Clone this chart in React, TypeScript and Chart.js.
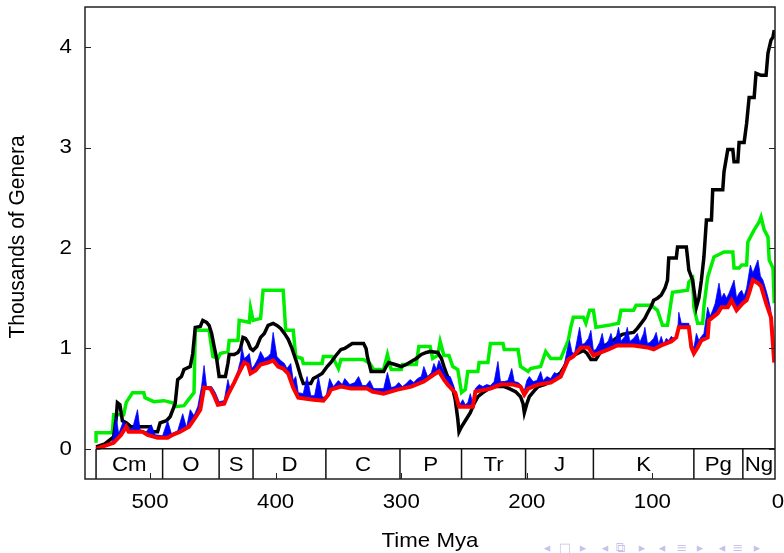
import React, { useEffect, useRef } from 'react';
import { Chart, registerables } from 'chart.js';
Chart.register(...registerables);

// ---- data (Mya, thousands of genera) ----
const blackSeries: [number, number][] = [
  [543,0.02],[536,0.05],[529,0.12],[527,0.3],[526,0.46],[524,0.44],[522,0.28],[519,0.26],[515,0.22],[500,0.22],[499,0.17],[494,0.17],[492,0.26],[487,0.28],[484,0.32],[480,0.45],[478,0.69],[475,0.72],[473,0.79],[468,0.82],[466,0.95],[464,1.21],[460,1.22],[458,1.28],[455,1.26],[453,1.23],[451,1.15],[449,1.02],[447,0.9],[445,0.72],[440,0.72],[438,0.85],[437,0.94],[433,0.94],[430,0.96],[428,1.0],[426,1.11],[424,1.1],[422,1.06],[420,1.0],[418,0.98],[415,1.02],[412,1.11],[409,1.15],[406,1.23],[402,1.25],[399,1.23],[396,1.2],[393,1.15],[390,1.09],[387,1.0],[383,0.85],[380,0.72],[378,0.65],[372,0.65],[370,0.7],[367,0.72],[363,0.75],[359,0.82],[356,0.86],[352,0.93],[348,0.99],[345,1.0],[339,1.05],[330,1.05],[328,1.0],[327,0.92],[324,0.77],[314,0.77],[312,0.82],[310,0.86],[305,0.84],[300,0.82],[296,0.84],[292,0.87],[288,0.9],[284,0.94],[280,0.96],[277,0.97],[271,0.96],[268,0.9],[266,0.82],[264,0.75],[262,0.69],[259,0.6],[257,0.49],[255,0.3],[254,0.17],[252,0.22],[250,0.26],[248,0.3],[245,0.36],[242,0.45],[239,0.52],[236,0.55],[234,0.57],[230,0.6],[226,0.62],[218,0.62],[214,0.6],[209,0.57],[205,0.52],[203,0.45],[202,0.36],[200,0.45],[198,0.52],[194,0.58],[191,0.62],[186,0.64],[181,0.67],[177,0.72],[173,0.76],[170,0.82],[167,0.9],[163,0.93],[158,0.96],[155,0.98],[152,0.95],[149,0.89],[145,0.89],[142,0.95],[139,1.02],[135,1.05],[131,1.08],[128,1.11],[124,1.14],[120,1.15],[115,1.16],[112,1.2],[109,1.25],[106,1.3],[104,1.35],[101,1.42],[99,1.48],[96,1.5],[93,1.53],[90,1.6],[88,1.68],[87,1.9],[81,1.9],[80,2.01],[73,2.01],[72,1.9],[71,1.78],[68,1.68],[66,1.5],[65,1.41],[63,1.5],[61,1.68],[59,1.91],[57,2.28],[53,2.28],[52,2.58],[44,2.58],[43,2.76],[40,2.98],[36,2.98],[35,2.86],[32,2.86],[31,3.05],[27,3.05],[25,3.24],[23,3.5],[19,3.5],[17.5,3.74],[13.5,3.72],[9.5,3.72],[8,3.94],[5.6,4.07],[4,4.1],[3,4.17]
];

const greenSeries: [number, number][] = [
  [543,0.06],[543,0.16],[530,0.16],[529,0.34],[521,0.34],[519,0.46],[514,0.56],[505,0.56],[504,0.51],[497,0.47],[489,0.48],[482,0.46],[480,0.42],[473,0.43],[470,0.48],[465,0.56],[464,1.18],[453,1.18],[450,0.92],[446,0.9],[444,0.95],[438,0.97],[437,1.08],[430,1.08],[429,1.28],[421,1.26],[420,1.4],[418,1.28],[412,1.3],[410,1.58],[394,1.58],[392,1.18],[386,1.18],[384,0.92],[379,0.9],[378,0.85],[363,0.85],[362,0.92],[355,0.92],[352,0.85],[350,0.8],[348,0.89],[330,0.89],[325,0.85],[322,0.79],[314,0.79],[311,0.94],[308,0.79],[300,0.79],[299,0.84],[288,0.84],[286,1.02],[277,1.02],[275,0.9],[271,0.93],[269,1.07],[266,0.93],[262,0.93],[259,0.82],[255,0.79],[252,0.56],[249,0.59],[247,0.77],[239,0.77],[238,0.86],[231,0.86],[229,1.05],[219,1.05],[218,0.99],[207,0.99],[205,0.82],[199,0.77],[197,0.8],[189,0.82],[185,0.97],[181,0.9],[173,0.9],[170,0.99],[167,1.08],[165,1.21],[163,1.31],[155,1.31],[153,1.25],[150,1.38],[147,1.38],[145,1.21],[135,1.23],[127,1.25],[125,1.38],[115,1.38],[113,1.43],[101,1.43],[96,1.38],[92,1.23],[88,1.23],[84,1.56],[72,1.58],[71,1.66],[68,1.7],[67,1.41],[64,1.25],[60,1.25],[59,1.42],[56,1.71],[51,1.91],[43,1.96],[36,1.96],[35,1.8],[31,1.8],[29,1.83],[25,1.83],[24,2.06],[19,2.18],[15,2.26],[13.5,2.31],[11,2.18],[8,2.11],[7,1.88],[4,1.8],[3,1.45]
];

const redSeries: [number, number][] = [
  [543,0.0],[529,0.06],[523,0.14],[519,0.22],[517,0.17],[510,0.17],[506,0.17],[502,0.14],[494,0.11],[486,0.11],[482,0.14],[476,0.17],[469,0.22],[464,0.31],[460,0.39],[457,0.61],[452,0.6],[449,0.53],[446,0.44],[441,0.45],[438,0.54],[433,0.66],[430,0.74],[425,0.86],[422,0.84],[420,0.75],[416,0.78],[412,0.84],[406,0.86],[402,0.88],[398,0.82],[394,0.8],[390,0.75],[386,0.61],[382,0.51],[370,0.49],[362,0.48],[358,0.54],[356,0.59],[348,0.62],[340,0.6],[327,0.6],[323,0.57],[314,0.55],[303,0.59],[292,0.62],[282,0.67],[274,0.74],[270,0.77],[266,0.69],[263,0.64],[257,0.56],[254,0.42],[243,0.42],[241,0.57],[229,0.6],[221,0.64],[211,0.64],[205,0.62],[202,0.54],[199,0.6],[191,0.64],[181,0.66],[173,0.72],[167,0.89],[163,0.92],[157,1.01],[151,1.01],[147,0.93],[143,0.95],[135,0.99],[128,1.03],[115,1.03],[104,1.01],[99,0.99],[93,1.03],[85,1.07],[81,1.11],[79,1.21],[71,1.21],[69,1.01],[67,0.95],[64,1.01],[61,1.08],[56,1.11],[55,1.28],[48,1.35],[45,1.41],[40,1.41],[37,1.48],[33,1.38],[28,1.45],[25,1.48],[23,1.55],[20,1.68],[16,1.65],[13.5,1.62],[9.5,1.45],[5.6,1.31],[3,0.86]
];

const blueSeries: [number, number][] = [
  [543,0.0],[535,0.05],[530,0.07],[527,0.32],[525,0.15],[521,0.28],[519,0.22],[514,0.2],[510,0.39],[508,0.19],[503,0.17],[499,0.24],[496,0.14],[490,0.13],[486,0.28],[483,0.15],[478,0.18],[474,0.35],[471,0.21],[468,0.39],[465,0.33],[462,0.42],[459,0.62],[457,0.83],[455,0.62],[451,0.62],[448,0.56],[445,0.47],[441,0.48],[438,0.69],[436,0.58],[433,0.68],[430,0.78],[428,0.88],[427,1.02],[425,0.9],[423,0.92],[421,0.95],[419,0.8],[417,0.83],[414,0.9],[412,0.97],[409,0.9],[406,0.92],[404,0.95],[402,1.16],[399,0.92],[396,0.88],[393,0.85],[391,0.8],[388,0.85],[386,0.68],[384,0.72],[382,0.56],[378,0.55],[375,0.72],[372,0.53],[369,0.53],[366,0.72],[363,0.52],[360,0.51],[357,0.7],[354,0.62],[350,0.68],[347,0.64],[345,0.7],[341,0.64],[337,0.66],[334,0.72],[331,0.63],[328,0.63],[325,0.68],[322,0.6],[318,0.6],[314,0.6],[311,0.76],[308,0.61],[305,0.62],[302,0.66],[299,0.62],[296,0.65],[293,0.69],[290,0.66],[287,0.7],[284,0.72],[282,0.82],[279,0.72],[276,0.76],[274,0.85],[272,0.79],[270,0.88],[267,0.8],[264,0.72],[261,0.72],[258,0.62],[256,0.5],[253,0.45],[251,0.49],[249,0.44],[247,0.46],[245,0.55],[243,0.45],[241,0.6],[238,0.64],[235,0.62],[232,0.64],[229,0.63],[226,0.67],[223,0.87],[221,0.67],[218,0.67],[215,0.68],[212,0.8],[210,0.67],[207,0.66],[205,0.64],[202,0.58],[200,0.68],[198,0.72],[195,0.67],[192,0.68],[189,0.77],[187,0.68],[184,0.72],[181,0.7],[178,0.76],[175,0.74],[172,0.78],[170,0.85],[168,0.98],[166,1.08],[164,0.96],[162,0.95],[160,1.08],[158,1.21],[156,1.04],[154,1.05],[151,1.1],[149,1.18],[147,0.98],[145,0.99],[142,1.06],[140,1.15],[138,1.02],[135,1.08],[133,1.15],[131,1.05],[129,1.1],[127,1.21],[125,1.07],[122,1.12],[120,1.21],[118,1.07],[115,1.1],[112,1.15],[110,1.06],[107,1.15],[106,1.21],[104,1.05],[102,1.06],[99,1.1],[97,1.16],[95,1.04],[93,1.12],[91,1.04],[89,1.1],[87,1.08],[85,1.12],[83,1.1],[80,1.14],[79,1.36],[77,1.25],[74,1.25],[71,1.25],[69,1.07],[67,1.0],[65,1.15],[63,1.08],[61,1.12],[59,1.15],[56,1.41],[54,1.32],[52,1.38],[50,1.45],[47,1.65],[45,1.5],[43,1.55],[41,1.5],[39,1.55],[35,1.68],[33,1.5],[31,1.55],[29,1.58],[27,1.52],[25,1.6],[22,1.83],[20,1.75],[16,1.88],[14,1.72],[12,1.68],[10,1.6],[8,1.51],[6,1.4],[4,1.2],[2.6,0.9]
];

const periodNames = ['Cm', 'O', 'S', 'D', 'C', 'P', 'Tr', 'J', 'K', 'Pg', 'Ng'];
const periodBounds = [543, 490, 445, 418, 360, 301, 252, 201, 147, 67, 28, 2.4];

const yTicks = [0, 1, 2, 3, 4];
const xTicks = [500, 400, 300, 200, 100, 0];
const xTickMarks = [500, 400, 300, 200, 100];

const FONT = '"Liberation Sans", Arial, Helvetica, sans-serif';
const STRETCH = 1.06;

function drawText(ctx: CanvasRenderingContext2D, t: string, x: number, y: number, align: CanvasTextAlign) {
  ctx.save();
  ctx.translate(x, y);
  ctx.scale(STRETCH, 1);
  ctx.textAlign = align;
  ctx.textBaseline = 'middle';
  ctx.fillText(t, 0, 0);
  ctx.restore();
}

const decorPlugin = {
  id: 'decor',
  afterDatasetsDraw(chart: any) {
    const ctx: CanvasRenderingContext2D = chart.ctx;
    const xs = chart.scales.x;
    const ys = chart.scales.y;
    const area = chart.chartArea;
    const y0 = ys.getPixelForValue(0);
    const yb = area.bottom;

    ctx.save();
    // period band
    const xStart = xs.getPixelForValue(periodBounds[0]);
    ctx.fillStyle = '#fff';
    ctx.fillRect(area.left + 1, y0 + 1, area.right - area.left - 2, yb - y0 - 1);
    ctx.strokeStyle = '#111';
    ctx.lineWidth = 1.5;
    ctx.beginPath();
    ctx.moveTo(xStart, y0);
    ctx.lineTo(area.right, y0);
    for (let i = 0; i < periodBounds.length - 1; i++) {
      const px = xs.getPixelForValue(periodBounds[i]);
      ctx.moveTo(px, y0);
      ctx.lineTo(px, yb);
    }
    ctx.stroke();

    ctx.fillStyle = '#000';
    ctx.font = `21px ${FONT}`;
    for (let i = 0; i < periodNames.length; i++) {
      const a = xs.getPixelForValue(periodBounds[i]);
      const b = xs.getPixelForValue(periodBounds[i + 1]);
      drawText(ctx, periodNames[i], (a + b) / 2, (y0 + yb) / 2 + 1, 'center');
    }

    // x tick marks (inward at bottom)
    ctx.lineWidth = 1;
    ctx.strokeStyle = '#222';
    ctx.beginPath();
    for (const v of xTickMarks) {
      const px = Math.round(xs.getPixelForValue(v)) + 0.5;
      ctx.moveTo(px, yb);
      ctx.lineTo(px, yb - 6);
    }
    // y tick marks (inward, both sides)
    for (const v of yTicks) {
      const py = Math.round(ys.getPixelForValue(v)) + 0.5;
      ctx.moveTo(area.left, py);
      ctx.lineTo(area.left + 6, py);
      ctx.moveTo(area.right, py);
      ctx.lineTo(area.right - 6, py);
    }
    ctx.stroke();

    // frame
    ctx.lineWidth = 1.5;
    ctx.strokeStyle = '#222';
    ctx.strokeRect(area.left, area.top, area.right - area.left, area.bottom - area.top);

    // tick labels
    ctx.fillStyle = '#000';
    ctx.font = `21px ${FONT}`;
    for (const v of yTicks) {
      drawText(ctx, String(v), 72, ys.getPixelForValue(v), 'right');
    }
    for (const v of xTicks) {
      drawText(ctx, String(v), xs.getPixelForValue(v), 502, 'center');
    }

    // axis titles
    drawText(ctx, 'Time Mya', (area.left + area.right) / 2, 541, 'center');
    ctx.save();
    ctx.translate(18, 237);
    ctx.rotate(-Math.PI / 2);
    ctx.scale(1, STRETCH);
    ctx.textAlign = 'center';
    ctx.textBaseline = 'middle';
    ctx.fillText('Thousands of Genera', 0, 0);
    ctx.restore();

    // beamer navigation symbols
    ctx.fillStyle = '#c4c4ea';
    ctx.font = `13px "DejaVu Sans", sans-serif`;
    const nav = ['◂', '□', '▸', '◂', '⧉', '▸', '◂', '≡', '▸', '◂', '≡', '▸'];
    const navX = [547, 565, 583, 605, 620, 642, 662, 682, 700, 722, 738, 757];
    ctx.textAlign = 'center';
    ctx.textBaseline = 'middle';
    nav.forEach((s, i) => ctx.fillText(s, navX[i], 549));
    ctx.restore();
  },
};

const toPts = (s: [number, number][]) => s.map(([x, y]) => ({ x, y }));

export default function App() {
  const ref = useRef<HTMLCanvasElement | null>(null);
  useEffect(() => {
    document.body.style.margin = '0';
    const canvas = ref.current!;
    const chart = new Chart(canvas, {
      type: 'line',
      data: {
        datasets: [
          { label: 'red', data: toPts(redSeries), borderColor: '#ff0000', borderWidth: 4, pointRadius: 0, fill: false, tension: 0 },
          { label: 'blue', data: toPts(blueSeries), borderColor: '#0000ff', backgroundColor: '#0000ff', borderWidth: 0.8, pointRadius: 0, fill: '-1', tension: 0 },
          { label: 'black', data: toPts(blackSeries), borderColor: '#000000', borderWidth: 3.5, pointRadius: 0, fill: false, tension: 0 },
          { label: 'green', data: toPts(greenSeries), borderColor: '#00ee00', borderWidth: 3.5, pointRadius: 0, fill: false, tension: 0 },
        ],
      },
      options: {
        responsive: false,
        animation: false,
        layout: { padding: { left: 85, top: 7, right: 9, bottom: 74 } },
        plugins: { legend: { display: false }, tooltip: { enabled: false } },
        scales: {
          x: { type: 'linear', reverse: true, min: 2.4, max: 551.8, display: false },
          y: { type: 'linear', min: -0.3, max: 4.4, display: false },
        },
      },
      plugins: [decorPlugin],
    });
    return () => chart.destroy();
  }, []);
  return <canvas ref={ref} width={784} height={553} style={{ display: 'block' }} />;
}
